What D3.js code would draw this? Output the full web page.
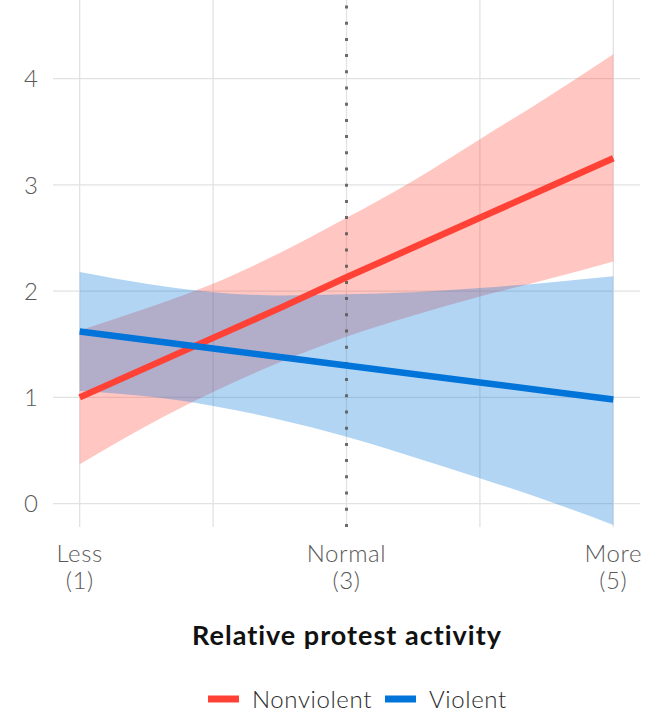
<!DOCTYPE html>
<html>
<head>
<meta charset="utf-8">
<script src="https://cdn.jsdelivr.net/npm/d3@7"></script>
<style>
  html, body { margin: 0; padding: 0; background: #fff; }
  svg { display: block; }
</style>
</head>
<body>
<svg id="chart" width="649" height="721"></svg>
<script>
// ---- data ----
const xValues = [1, 1.5, 2, 2.5, 3, 3.5, 4, 4.5, 5];
const nonviolentFit   = [1.00, 1.28, 1.56, 1.84, 2.13, 2.41, 2.69, 2.97, 3.25];
const nonviolentLower = [0.37, 0.73, 1.05, 1.33, 1.57, 1.77, 1.95, 2.11, 2.28];
const nonviolentUpper = [1.63, 1.84, 2.07, 2.36, 2.69, 3.04, 3.43, 3.82, 4.23];
const violentFit   = [1.62, 1.54, 1.46, 1.38, 1.30, 1.22, 1.14, 1.06, 0.98];
const violentLower = [1.06, 1.01, 0.92, 0.79, 0.63, 0.44, 0.24, 0.03, -0.20];
const violentUpper = [2.18, 2.07, 1.99, 1.96, 1.97, 1.99, 2.03, 2.08, 2.14];
const yTicks = [0, 1, 2, 3, 4];
const xGrid = [1, 2, 3, 4, 5];
const xTickValues = [1, 3, 5];
const xTickLabels = [["Less", "(1)"], ["Normal", "(3)"], ["More", "(5)"]];
const referenceX = 3;
const seriesNames = ["Nonviolent", "Violent"];
const seriesColors = ["#FF4136", "#0074D9"];
const xTitle = "Relative protest activity";

const font = "Lato, 'Open Sans', sans-serif";
const svg = d3.select("#chart");

const x = d3.scaleLinear().domain([0.8, 5.2]).range([53, 640]);
const y = d3.scaleLinear().domain([-0.22, 4.74]).range([527, 0]);

// gridlines
const grid = svg.append("g");
grid.selectAll("line.h").data(yTicks).join("line")
  .attr("x1", x.range()[0]).attr("x2", x.range()[1])
  .attr("y1", d => y(d)).attr("y2", d => y(d))
  .attr("stroke", "#e2e2e2").attr("stroke-width", 1.3);
grid.selectAll("line.v").data(xGrid).join("line")
  .attr("x1", d => x(d)).attr("x2", d => x(d))
  .attr("y1", y.range()[0]).attr("y2", y.range()[1])
  .attr("stroke", "#e2e2e2").attr("stroke-width", 1.3);

// y axis labels
svg.append("g").selectAll("text").data(yTicks).join("text")
  .attr("x", 38).attr("y", d => y(d))
  .attr("dy", "0.36em")
  .attr("text-anchor", "end")
  .attr("font-family", font).attr("font-weight", 300).attr("font-size", 24)
  .attr("fill", "#595959")
  .text(d => d);

// x axis labels
const xl = svg.append("g").selectAll("text").data(xTickValues).join("text")
  .attr("text-anchor", "middle")
  .attr("font-family", font).attr("font-weight", 300).attr("font-size", 24)
  .attr("letter-spacing", 0.6)
  .attr("fill", "#595959");
xl.each(function(d, i) {
  const t = d3.select(this);
  xTickLabels[i].forEach((s, j) => {
    t.append("tspan").attr("x", x(d)).attr("y", 562 + j * 27).text(s);
  });
});

// ribbons
const area = (lo, hi) => d3.area()
  .curve(d3.curveMonotoneX)
  .x((d, i) => x(xValues[i]))
  .y0((d, i) => y(lo[i]))
  .y1((d, i) => y(hi[i]));
const ribbons = [[nonviolentLower, nonviolentUpper], [violentLower, violentUpper]];
svg.append("g").selectAll("path").data(ribbons).join("path")
  .attr("d", d => area(d[0], d[1])(xValues))
  .attr("fill", (d, i) => seriesColors[i])
  .attr("fill-opacity", 0.3);

// reference dotted line
svg.append("line")
  .attr("x1", x(referenceX)).attr("x2", x(referenceX))
  .attr("y1", 0).attr("y2", y.range()[0])
  .attr("stroke", "#555").attr("stroke-opacity", 0.85)
  .attr("stroke-width", 3)
  .attr("stroke-dasharray", "3,13.2")
  .attr("stroke-dashoffset", -5.5);

// fitted lines
const line = d3.line().x((d, i) => x(xValues[i])).y(d => y(d));
svg.append("g").selectAll("path").data([nonviolentFit, violentFit]).join("path")
  .attr("d", d => line(d))
  .attr("fill", "none")
  .attr("stroke", (d, i) => seriesColors[i])
  .attr("stroke-width", 6.5);

// axis title
svg.append("text")
  .attr("x", 347).attr("y", 645)
  .attr("text-anchor", "middle")
  .attr("font-family", font).attr("font-weight", 700).attr("font-size", 27)
  .attr("letter-spacing", 1)
  .attr("fill", "#111")
  .text(xTitle);

// legend
const legend = svg.append("g");
const legendX = [208, 385];
seriesNames.forEach((name, i) => {
  legend.append("line")
    .attr("x1", legendX[i]).attr("x2", legendX[i] + 31)
    .attr("y1", 699).attr("y2", 699)
    .attr("stroke", seriesColors[i]).attr("stroke-width", 7);
  legend.append("text")
    .attr("x", legendX[i] + 44).attr("y", 708)
    .attr("font-family", font).attr("font-weight", 300).attr("font-size", 24)
    .attr("letter-spacing", 0.6)
    .attr("fill", "#2a2a2a")
    .text(name);
});
</script>
</body>
</html>
